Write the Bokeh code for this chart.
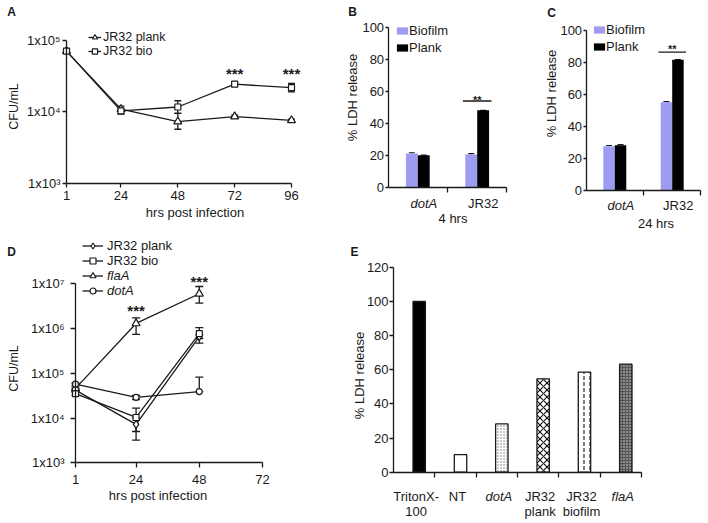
import math
from bokeh.plotting import figure
from bokeh.models import (ColumnDataSource, Range1d, FixedTicker, Whisker, TeeHead,
                          Label, Legend, LegendItem)
from bokeh.layouts import row, column
from bokeh.embed import file_html
from bokeh.resources import INLINE

FONT = "Liberation Sans"
INK = "#1a1a1a"
BIOFILM_COLOR = "#9d9cf0"

# ---------------- data ----------------
# Panel A: CFU/mL over time (log scale)
a_hours = [1, 24, 48, 72, 96]
a_plank = [71000, 10900, 7300, 8600, 7600]
a_plank_lo = [66000, 9300, 5700, 8200, 7300]
a_plank_hi = [76000, 12000, 9500, 9000, 7900]
a_bio = [71000, 10300, 11700, 24400, 21800]
a_bio_lo = [66000, 9900, 9500, 23600, 19000]
a_bio_hi = [76000, 10800, 14300, 25200, 25000]
a_y_ticks = [1e3, 1e4, 1e5]
a_y_tick_labels = ["1x10³", "1x10⁴", "1x10⁵"]
a_star_hours = [72, 96]
a_star_level = [34500, 34500]

# Panels B and C: % LDH release
bc_strains = ["dotA", "JR32"]
bc_italic = [True, False]
b_biofilm = [21.0, 20.4]
b_biofilm_err = [0.5, 0.5]
b_plank = [20.0, 48.0]
b_plank_err = [0.0, 0.0]
b_sig_level = 53.8
c_biofilm = [27.5, 55.0]
c_biofilm_err = [0.4, 0.4]
c_plank = [28.0, 81.7]
c_plank_err = [0.4, 0.0]
c_sig_level = 86.4
bc_sig_strain = "JR32"
bc_y_ticks = [0, 20, 40, 60, 80, 100]

# Panel D: CFU/mL over time (log scale)
d_hours = [1, 24, 48]
d_plank = [42000, 7200, 660000]
d_plank_lo = [39000, 3200, 600000]
d_plank_hi = [45000, 10000, 720000]
d_bio = [35000, 10300, 770000]
d_bio_lo = [32000, 5000, 470000]
d_bio_hi = [38000, 16600, 1050000]
d_flaA = [46000, 1300000, 6000000]
d_flaA_lo = [43000, 740000, 3700000]
d_flaA_hi = [49000, 1740000, 8700000]
d_dotA = [57000, 29000, 39000]
d_dotA_lo = [54000, 26000, 39000]
d_dotA_hi = [60000, 32000, 82000]
d_x_ticks = [1, 24, 48, 72]
d_y_ticks = [1e3, 1e4, 1e5, 1e6, 1e7]
d_y_tick_labels = ["1x10³", "1x10⁴", "1x10⁵", "1x10⁶", "1x10⁷"]
d_star_hours = [24, 48]
d_star_level = [2.5e6, 1.15e7]

# Panel E: % LDH release by treatment
e_treatments = ["TritonX-\n100", "NT", "dotA", "JR32\nplank", "JR32\nbiofilm", "flaA"]
e_italic = [False, False, True, False, False, True]
e_ldh = [100.0, 10.3, 28.3, 54.7, 58.6, 63.3]
e_y_ticks = [0, 20, 40, 60, 80, 100, 120]

# bar styles for panel E (one per treatment)
e_fill = ["#000000", "#ffffff", "#ffffff", "#ffffff", "#ffffff", "#555555"]
e_hatch = [" ", " ", "dot", "diagonal_cross", "vertical_dash", "dot"]
e_hatch_color = ["#000000", "#000000", "#777777", "#111111", "#111111", "#dddddd"]
e_hatch_scale = [6, 6, 3, 7, 6, 3]

# ---------------- page layout (pixels) ----------------
BOX_A = (0, 0, 340, 232)
BOX_B = (340, 0, 540, 232)
BOX_C = (540, 0, 708, 232)
BOX_D = (0, 232, 340, 523)
BOX_E = (340, 232, 708, 523)


def rng(v0, p0, v1, p1, e0, e1, log=False):
    """Range whose value v0 sits at pixel p0 and v1 at pixel p1; ends at pixels e0, e1."""
    if log:
        v0, v1 = math.log10(v0), math.log10(v1)
    s = (v1 - v0) / (p1 - p0)
    a, b = v0 + (e0 - p0) * s, v0 + (e1 - p0) * s
    if log:
        a, b = 10 ** a, 10 ** b
    return Range1d(start=a, end=b)


def base_fig(box, x_range, y_range, y_log=False):
    l, t, r, b = box
    p = figure(width=r - l, height=b - t, x_range=x_range, y_range=y_range,
               y_axis_type="log" if y_log else "linear", title=None,
               output_backend="svg", toolbar_location=None,
               min_border_left=0, min_border_right=0, min_border_top=0, min_border_bottom=0)
    p.outline_line_color = None
    p.xgrid.visible = False
    p.ygrid.visible = False
    p.background_fill_color = "white"
    p.border_fill_color = "white"
    for ax in p.axis:
        ax.axis_line_color = INK
        ax.axis_line_width = 1.3
        ax.major_tick_line_color = INK
        ax.major_tick_line_width = 1.3
        ax.major_tick_in = 0
        ax.major_tick_out = 4
        ax.minor_tick_line_color = None
        ax.major_label_text_font = FONT
        ax.major_label_text_font_size = "13px"
        ax.major_label_text_color = INK
    return p


def page_text(p, box, px, py, text, size="13px", style="normal", angle=0.0,
              align="center", baseline="middle"):
    l, t, r, b = box
    p.add_layout(Label(x=px - l, y=b - py, x_units="screen", y_units="screen", text=text,
                       text_font=FONT, text_font_size=size, text_font_style=style,
                       text_color=INK, text_align=align, text_baseline=baseline,
                       angle=angle))


def whiskers(p, xs, lo, hi, head=7):
    src = ColumnDataSource(dict(x=xs, lo=lo, hi=hi))
    p.add_layout(Whisker(source=src, base="x", lower="lo", upper="hi", dimension="height",
                         line_color=INK, line_width=1.3,
                         upper_head=TeeHead(size=head, line_color=INK, line_width=1.3),
                         lower_head=TeeHead(size=head, line_color=INK, line_width=1.3)))


def upper_whiskers(p, xs, vals, errs, head=6):
    src = ColumnDataSource(dict(x=xs, lo=vals, hi=[v + e for v, e in zip(vals, errs)]))
    p.add_layout(Whisker(source=src, base="x", lower="lo", upper="hi", dimension="height",
                         line_color=INK, line_width=1.2,
                         upper_head=TeeHead(size=head, line_color=INK, line_width=1.2),
                         lower_head=None))


def legend_row(p, box, label, renderers, glyph_left, text_left, row_center, glyph_w,
               row_h, italic=False, size="13px"):
    l, t, r, b = box
    lg = Legend(items=[LegendItem(label=label, renderers=renderers)],
                location=(glyph_left - l, b - (row_center + row_h / 2)))
    lg.border_line_color = None
    lg.background_fill_alpha = 0
    lg.padding = 0
    lg.margin = 0
    lg.spacing = 0
    lg.glyph_width = glyph_w
    lg.glyph_height = row_h
    lg.label_height = row_h
    lg.label_standoff = text_left - glyph_left - glyph_w
    lg.label_text_font = FONT
    lg.label_text_font_size = size
    lg.label_text_color = INK
    lg.label_text_font_style = "italic" if italic else "normal"
    p.add_layout(lg)


def series(p, xs, ys, marker, size):
    ln = p.line(xs, ys, line_color=INK, line_width=1.3)
    sc = p.scatter(xs, ys, marker=marker, size=size, fill_color="white",
                   line_color=INK, line_width=1.2)
    return [ln, sc]


def stars(p, xs, ys, text, size):
    for x, y in zip(xs, ys):
        p.add_layout(Label(x=x, y=y, text=text, text_font=FONT, text_font_size=size,
                           text_font_style="bold", text_color=INK, text_align="center",
                           text_baseline="middle"))


# ---------------- Panel A ----------------
pA = base_fig(BOX_A, rng(1, 66, 96, 291, BOX_A[0], BOX_A[2]),
              rng(1e5, 40, 1e3, 182.7, BOX_A[3], BOX_A[1], log=True), y_log=True)
pA.yaxis.fixed_location = a_hours[0]
pA.xaxis.fixed_location = a_y_ticks[0]
pA.xaxis.bounds = (a_hours[0], a_hours[-1])
pA.yaxis.bounds = (a_y_ticks[0], a_y_ticks[-1])
pA.xaxis.ticker = FixedTicker(ticks=a_hours)
pA.yaxis.ticker = FixedTicker(ticks=a_y_ticks)
pA.yaxis.major_label_overrides = {t: s for t, s in zip(a_y_ticks, a_y_tick_labels)}
pA.xaxis.major_label_standoff = 4
pA.yaxis.major_label_standoff = 2

whiskers(pA, a_hours, a_plank_lo, a_plank_hi)
whiskers(pA, a_hours, a_bio_lo, a_bio_hi)
rA_plank = series(pA, a_hours, a_plank, "triangle", 8)
rA_bio = series(pA, a_hours, a_bio, "square", 6)
legend_row(pA, BOX_A, "JR32 plank", rA_plank, 88, 103, 37.0, 13, 14, size="12.5px")
legend_row(pA, BOX_A, "JR32 bio", rA_bio, 88, 103, 51.0, 13, 14, size="12.5px")
stars(pA, a_star_hours, a_star_level, "***", "15px")
page_text(pA, BOX_A, 11, 11, "A", size="12px", style="bold")
page_text(pA, BOX_A, 13, 106, "CFU/mL", size="12.5px", angle=math.pi / 2)
page_text(pA, BOX_A, 194.5, 212, "hrs post infection")


# ---------------- Panels B and C ----------------
def ldh_panel(box, vals_bio, err_bio, vals_plank, err_plank, sig_level, xtitle, letter,
              px0, px1, py0, py100, letter_xy, ytitle_xy, cat_y, xtitle_xy,
              legend_glyph_left, legend_text_left, legend_rows, star_lift):
    idx = list(range(len(bc_strains)))
    l, t, r, b = box
    p = base_fig(box, rng(0, px0, 1, px1, l, r), rng(0, py0, 100, py100, b, t))
    p.xaxis.fixed_location = bc_y_ticks[0]
    p.yaxis.fixed_location = -0.5
    p.xaxis.bounds = (-0.5, len(bc_strains) - 0.5)
    p.yaxis.bounds = (bc_y_ticks[0], bc_y_ticks[-1])
    p.yaxis.ticker = FixedTicker(ticks=bc_y_ticks)
    p.yaxis.major_tick_out = 3
    p.yaxis.major_label_standoff = 1
    p.xaxis.ticker = FixedTicker(ticks=idx, minor_ticks=[i + 0.5 for i in idx])
    p.xaxis.major_tick_out = 0
    p.xaxis.minor_tick_out = 5
    p.xaxis.minor_tick_in = 0
    p.xaxis.minor_tick_line_color = INK
    p.xaxis.minor_tick_line_width = 1.3
    p.xaxis.major_label_overrides = {i: "" for i in idx}
    x_bio = [i - 0.1 for i in idx]
    x_plank = [i + 0.1 for i in idx]
    upper_whiskers(p, x_bio, vals_bio, err_bio)
    upper_whiskers(p, x_plank, vals_plank, err_plank)
    r_bio = p.vbar(x=x_bio, top=vals_bio, width=0.2, bottom=0,
                   fill_color=BIOFILM_COLOR, line_color=None)
    r_plank = p.vbar(x=x_plank, top=vals_plank, width=0.2, bottom=0,
                     fill_color="black", line_color=None)
    legend_row(p, box, "Biofilm", [r_bio], legend_glyph_left, legend_text_left,
               legend_rows[0], 14, 9)
    legend_row(p, box, "Plank", [r_plank], legend_glyph_left, legend_text_left,
               legend_rows[1], 14, 9)
    si = bc_strains.index(bc_sig_strain)
    p.segment(x0=[si - 0.24], x1=[si + 0.24], y0=[sig_level], y1=[sig_level],
              line_color=INK, line_width=1.3)
    p.add_layout(Label(x=si, y=sig_level, y_offset=star_lift, text="**", text_font=FONT,
                       text_font_size="11px", text_font_style="bold", text_color=INK,
                       text_align="center", text_baseline="middle"))
    for i, s, it in zip(idx, bc_strains, bc_italic):
        p.add_layout(Label(x=i, y=b - cat_y, x_units="data", y_units="screen", x_offset=6,
                           text=s, text_font=FONT, text_font_size="13px",
                           text_font_style="italic" if it else "normal", text_color=INK,
                           text_align="center", text_baseline="middle"))
    page_text(p, box, letter_xy[0], letter_xy[1], letter, size="12px", style="bold")
    page_text(p, box, ytitle_xy[0], ytitle_xy[1], "% LDH release", angle=math.pi / 2)
    page_text(p, box, xtitle_xy[0], xtitle_xy[1], xtitle)
    return p


pB = ldh_panel(BOX_B, b_biofilm, b_biofilm_err, b_plank, b_plank_err, b_sig_level, "4 hrs",
               "B", 417.3, 476.7, 186.7, 26.5, (352, 11), (352, 97), 202.5, (452.5, 218),
               395, 408, (33.8, 50.8), 1)
pC = ldh_panel(BOX_C, c_biofilm, c_biofilm_err, c_plank, c_plank_err, c_sig_level, "24 hrs",
               "C", 614.3, 671.7, 189.5, 30, (551, 12), (551, 93), 205, (655.5, 223),
               592, 605, (32.5, 49.2), 3)


# ---------------- Panel D ----------------
pD = base_fig(BOX_D, rng(1, 75, 72, 262, BOX_D[0], BOX_D[2]),
              rng(1e7, 283.3, 1e3, 462.3, BOX_D[3], BOX_D[1], log=True), y_log=True)
pD.xaxis.fixed_location = d_y_ticks[0]
pD.yaxis.fixed_location = d_x_ticks[0]
pD.xaxis.bounds = (d_x_ticks[0], d_x_ticks[-1])
pD.yaxis.bounds = (d_y_ticks[0], d_y_ticks[-1])
pD.xaxis.ticker = FixedTicker(ticks=d_x_ticks)
pD.yaxis.ticker = FixedTicker(ticks=d_y_ticks)
pD.yaxis.major_label_overrides = {t: s for t, s in zip(d_y_ticks, d_y_tick_labels)}
pD.xaxis.major_tick_out = 5
pD.xaxis.major_label_standoff = 7
pD.yaxis.major_tick_out = 5
pD.yaxis.major_label_standoff = 6

whiskers(pD, d_hours, d_plank_lo, d_plank_hi, head=8)
whiskers(pD, d_hours, d_bio_lo, d_bio_hi, head=8)
whiskers(pD, d_hours, d_flaA_lo, d_flaA_hi, head=8)
whiskers(pD, d_hours, d_dotA_lo, d_dotA_hi, head=8)
rD_plank = series(pD, d_hours, d_plank, "diamond", 8)
rD_bio = series(pD, d_hours, d_bio, "square", 6)
rD_flaA = series(pD, d_hours, d_flaA, "triangle", 8)
rD_dotA = series(pD, d_hours, d_dotA, "circle", 6)
legend_row(pD, BOX_D, "JR32 plank", rD_plank, 82, 107, 245, 21, 15)
legend_row(pD, BOX_D, "JR32 bio", rD_bio, 82, 107, 260, 21, 15)
legend_row(pD, BOX_D, "flaA", rD_flaA, 82, 107, 275, 21, 15, italic=True)
legend_row(pD, BOX_D, "dotA", rD_dotA, 82, 107, 290, 21, 15, italic=True)
stars(pD, d_star_hours, d_star_level, "***", "15px")
page_text(pD, BOX_D, 11, 251, "D", size="12px", style="bold")
page_text(pD, BOX_D, 13, 368, "CFU/mL", size="12.5px", angle=math.pi / 2)
page_text(pD, BOX_D, 157.5, 495, "hrs post infection")


# ---------------- Panel E ----------------
e_idx = list(range(len(e_treatments)))
e_slot_start = -0.62
pE = base_fig(BOX_E, rng(0, 418.7, 5, 625.3, BOX_E[0], BOX_E[2]),
              rng(0, 471.7, 100, 301, BOX_E[3], BOX_E[1]))
pE.xaxis.fixed_location = e_y_ticks[0]
pE.yaxis.fixed_location = e_slot_start
pE.xaxis.bounds = (e_slot_start, e_slot_start + len(e_treatments))
pE.yaxis.bounds = (e_y_ticks[0], e_y_ticks[-1])
pE.yaxis.ticker = FixedTicker(ticks=e_y_ticks)
pE.yaxis.major_label_standoff = 1
pE.xaxis.ticker = FixedTicker(ticks=e_idx,
                              minor_ticks=[e_slot_start + i + 1 for i in e_idx])
pE.xaxis.major_tick_out = 0
pE.xaxis.minor_tick_out = 5
pE.xaxis.minor_tick_in = 0
pE.xaxis.minor_tick_line_color = INK
pE.xaxis.minor_tick_line_width = 1.3
pE.xaxis.major_label_overrides = {i: "" for i in e_idx}

e_src = ColumnDataSource(dict(x=e_idx, top=e_ldh, fill=e_fill, hatch=e_hatch,
                              hcolor=e_hatch_color, hscale=e_hatch_scale))
pE.vbar(x="x", top="top", bottom=0, width=0.3, source=e_src, fill_color="fill",
        line_color=INK, line_width=1.3, hatch_pattern="hatch", hatch_color="hcolor",
        hatch_scale="hscale", hatch_weight=1.1)
for i, s, it in zip(e_idx, e_treatments, e_italic):
    pE.add_layout(Label(x=i, y=BOX_E[3] - 488, x_units="data", y_units="screen",
                        x_offset=-3, text=s, text_font=FONT, text_font_size="13px",
                        text_font_style="italic" if it else "normal", text_color=INK,
                        text_align="center", text_baseline="top", text_line_height=1.0))
page_text(pE, BOX_E, 354, 251, "E", size="12px", style="bold")
page_text(pE, BOX_E, 359, 375, "% LDH release", angle=math.pi / 2)


layout = column(row(pA, pB, pC), row(pD, pE))
open("out.html", "w").write(file_html(layout, INLINE))
